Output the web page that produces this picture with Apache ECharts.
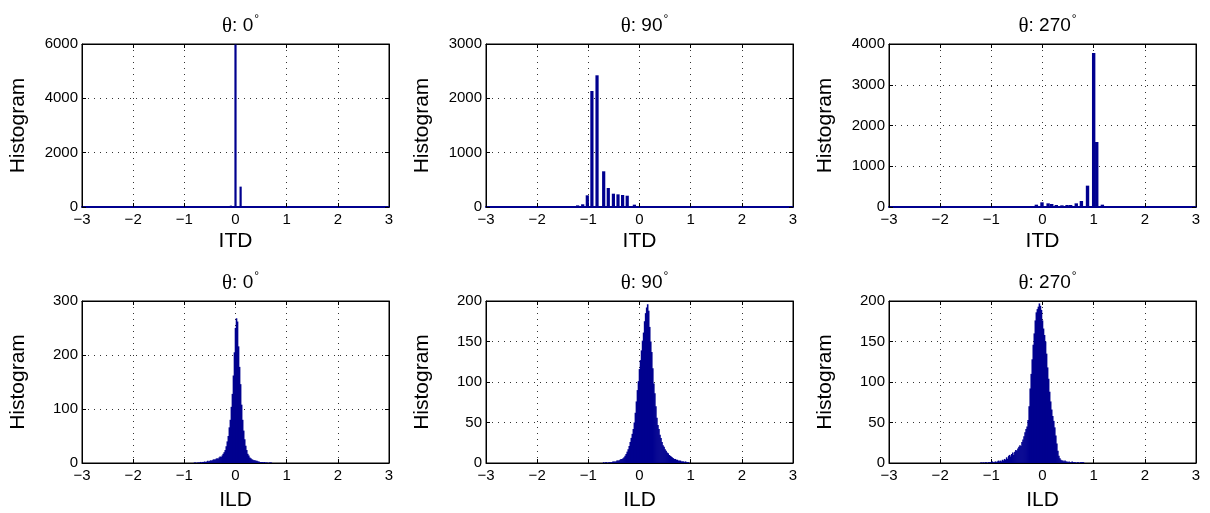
<!DOCTYPE html>
<html><head><meta charset="utf-8">
<script src="https://cdn.jsdelivr.net/npm/echarts@6/dist/echarts.min.js"></script>
<style>html,body{margin:0;padding:0;background:#fff}#c{width:1210px;height:513px}</style>
</head><body><div id="c"></div><script>
// ---- data ----
const xTicks = [-3, -2, -1, 0, 1, 2, 3];
const thetas = ['0', '90', '270'];
// ITD histograms (bar centre, count)
const itd0X = [-0.09, 0.0, 0.10];
const itd0Y = [50, 5980, 750];
const itd90X = [-1.21, -1.11, -1.02, -0.93, -0.83, -0.70, -0.61, -0.51, -0.42, -0.33, -0.24, -0.10];
const itd90Y = [30, 50, 215, 2135, 2424, 657, 350, 245, 233, 221, 208, 43];
const itd270X = [-0.12, -0.01, 0.11, 0.18, 0.27, 0.38, 0.48, 0.55, 0.66, 0.76, 0.88, 1.0, 1.06, 1.17, 1.29];
const itd270Y = [57, 115, 90, 74, 49, 41, 49, 49, 90, 147, 524, 3780, 1595, 57, 20];
// ILD histograms: first bin centre, bin width, counts
const ildBinWidth = 0.02;
const ild0Start = -0.80;
const ild0Counts = [1,1,0,1,1,1,2,1,2,2,3,2,3,4,3,4,5,4,6,7,6,8,9,8,10,12,11,14,17,20,24,31,40,50,66,80,104,128,162,205,250,268,262,216,178,146,108,80,60,44,32,24,17,14,10,9,7,6,5,5,4,4,3,3,2,2,2,1,2,1,1,1,0,1,1,1];
const ild90Start = -0.70;
const ild90Counts = [1,0,1,1,0,1,1,1,1,2,2,2,2,3,3,3,4,5,5,6,7,9,11,14,17,21,26,31,36,42,50,62,76,90,101,116,127,139,151,161,175,185,192,196,188,168,150,137,117,98,86,70,56,47,42,35,31,26,22,20,17,15,13,12,10,9,8,7,6,5,5,4,4,3,3,3,2,2,2,1,2,1,1,1];
const ild270Start = -1.20;
const ild270Counts = [1,0,1,0,1,1,0,1,1,1,1,2,1,1,2,1,2,3,2,3,2,4,3,5,4,7,5,9,10,8,11,13,10,14,16,15,18,20,22,21,26,29,33,38,42,45,53,70,92,110,128,146,160,176,186,190,193,197,194,189,176,166,158,150,135,118,104,88,76,66,58,52,44,34,24,15,9,6,4,3,3,2,3,2,2,1,2,1,1,2,1,1,1,0,1,1,0,1,1,1,1];

// ---- layout ----
const F = '"Liberation Sans", Arial, Helvetica, sans-serif';
const L = [82, 486, 889], W = 307;
const T = [44, 301], H = [163, 162];
const NAVY = '#00008F';

function pairs(xs, ys) { return xs.map((x, k) => [x, ys[k]]); }
function binned(start, counts) { return counts.map((c, k) => [+(start + k * ildBinWidth).toFixed(3), c]); }

const panels = [
  { data: pairs(itd0X, itd0Y), yMax: 6000, yInt: 2000, name: 'ITD', bw: 2.2 },
  { data: pairs(itd90X, itd90Y), yMax: 3000, yInt: 1000, name: 'ITD', bw: 3.2 },
  { data: pairs(itd270X, itd270Y), yMax: 4000, yInt: 1000, name: 'ITD', bw: 3.4 },
  { data: binned(ild0Start, ild0Counts), yMax: 300, yInt: 100, name: 'ILD', bw: 1.6 },
  { data: binned(ild90Start, ild90Counts), yMax: 200, yInt: 50, name: 'ILD', bw: 1.6 },
  { data: binned(ild270Start, ild270Counts), yMax: 200, yInt: 50, name: 'ILD', bw: 1.6 }
];

const grids = [], xAxes = [], yAxes = [], series = [], titles = [];
const tick = { inside: true, length: 4, lineStyle: { color: '#000', width: 1 } };
const dotted = { show: true, lineStyle: { type: [1, 5], color: '#333', width: 1 } };
const minus = v => String(v).replace('-', '\u2212');
const plain = v => String(v);

panels.forEach((p, i) => {
  const col = i % 3, row = Math.floor(i / 3);
  grids.push({ left: L[col], top: T[row], width: W, height: H[row], show: true, borderColor: '#000', borderWidth: 1, backgroundColor: 'transparent' });
  const xb = { gridIndex: i, type: 'value', min: xTicks[0], max: xTicks[xTicks.length - 1], interval: 1 };
  xAxes.push(Object.assign({}, xb, {
    position: 'bottom', name: p.name, nameLocation: 'middle', nameGap: row === 0 ? 24 : 27,
    nameTextStyle: { fontSize: 21, color: '#000', fontFamily: F },
    axisLine: { show: true, onZero: false, lineStyle: { color: row === 0 ? NAVY : '#000', width: row === 0 ? 2 : 1 } },
    axisTick: tick,
    axisLabel: { fontSize: 15, color: '#000', fontFamily: F, margin: 5, formatter: minus },
    splitLine: dotted
  }));
  xAxes.push(Object.assign({}, xb, {
    position: 'top', axisLine: { show: true, onZero: false, lineStyle: { color: '#000' } },
    axisTick: tick, axisLabel: { show: false }, splitLine: { show: false }
  }));
  const yb = { gridIndex: i, type: 'value', min: 0, max: p.yMax, interval: p.yInt };
  yAxes.push(Object.assign({}, yb, {
    position: 'left', name: 'Histogram', nameLocation: 'middle', nameGap: 53,
    nameTextStyle: { fontSize: 21, color: '#000', fontFamily: F },
    axisLine: { show: true, onZero: false, lineStyle: { color: '#000' } },
    axisTick: tick,
    axisLabel: { fontSize: 15, color: '#000', fontFamily: F, margin: 4, formatter: plain },
    splitLine: dotted
  }));
  yAxes.push(Object.assign({}, yb, {
    position: 'right', axisLine: { show: true, onZero: false, lineStyle: { color: '#000' } },
    axisTick: tick, axisLabel: { show: false }, splitLine: { show: false }
  }));
  series.push({
    type: 'bar', xAxisIndex: 2 * i, yAxisIndex: 2 * i, data: p.data,
    barWidth: p.bw, itemStyle: { color: NAVY }, silent: true, animation: false
  });
  titles.push({
    text: '{t|θ}{a|: ' + thetas[col] + '}{s|°}',
    left: L[col] + W / 2, top: row === 0 ? 9 : 266, textAlign: 'center',
    textStyle: { fontWeight: 'normal', rich: {
      t: { fontSize: 21, fontWeight: 'normal', fontFamily: '"Liberation Serif", serif', color: '#000' },
      a: { fontSize: 19, fontWeight: 'normal', fontFamily: F, color: '#000' },
      s: { fontSize: 12, fontWeight: 'normal', fontFamily: F, color: '#000', verticalAlign: 'top', padding: [0, 0, 12, 1] }
    } }
  });
});

const chart = echarts.init(document.getElementById('c'));
chart.setOption({
  animation: false, backgroundColor: '#fff',
  title: titles, grid: grids, xAxis: xAxes, yAxis: yAxes, series: series
});
</script></body></html>
